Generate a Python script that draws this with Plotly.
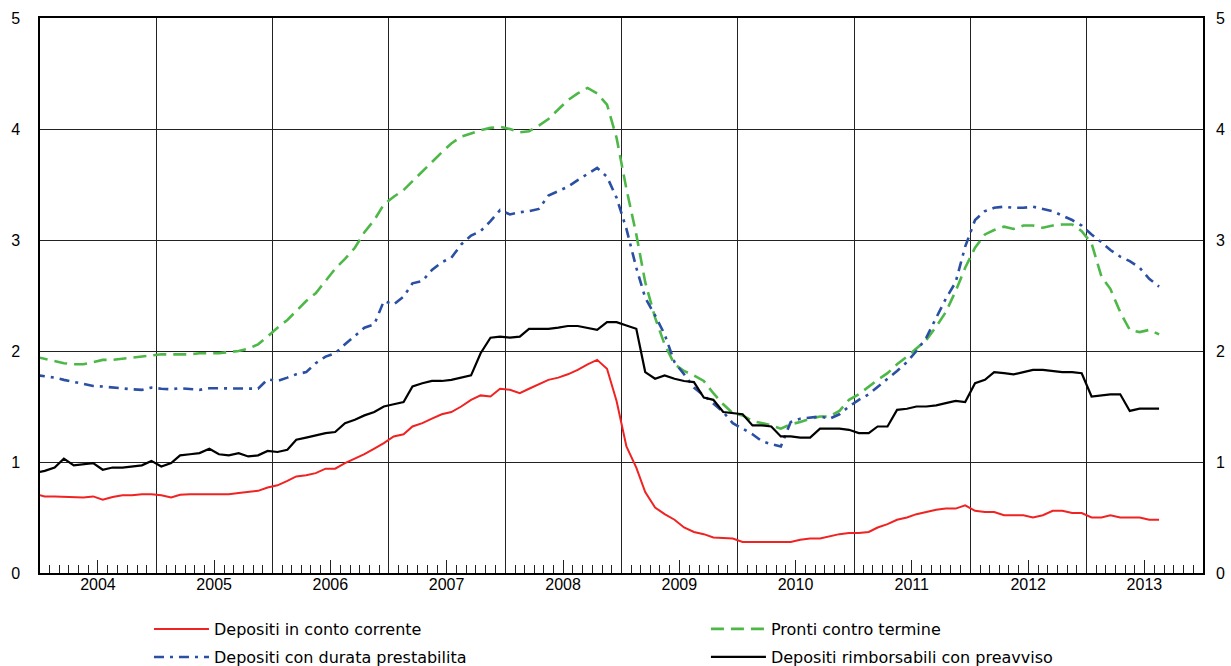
import pandas as pd
import plotly.graph_objects as go

# ---- data (monthly, Dec 2003 - Aug 2013) ----
start_month = "2003-12-01"
n_months = 117

conto_corrente = [
    0.71,
    0.69, 0.69, 0.685, 0.68, 0.68, 0.69, 0.66, 0.685, 0.70, 0.70, 0.71, 0.71,
    0.70, 0.68, 0.705, 0.71, 0.71, 0.705, 0.705, 0.71, 0.72, 0.73, 0.74, 0.77,
    0.79, 0.83, 0.87, 0.88, 0.90, 0.94, 0.94, 0.99, 1.03, 1.07, 1.12, 1.17,
    1.23, 1.25, 1.32, 1.35, 1.39, 1.43, 1.45, 1.50, 1.56, 1.60, 1.59, 1.66,
    1.65, 1.62, 1.66, 1.70, 1.74, 1.76, 1.79, 1.83, 1.88, 1.92, 1.84, 1.55,
    1.14, 0.95, 0.73, 0.59, 0.53, 0.48, 0.41, 0.37, 0.35, 0.32, 0.315, 0.31,
    0.28, 0.28, 0.28, 0.275, 0.275, 0.28, 0.30, 0.31, 0.31, 0.33, 0.35, 0.36,
    0.36, 0.37, 0.41, 0.44, 0.48, 0.50, 0.53, 0.55, 0.57, 0.58, 0.58, 0.61,
    0.56, 0.55, 0.55, 0.52, 0.52, 0.52, 0.50, 0.52, 0.56, 0.56, 0.54, 0.54,
    0.50, 0.50, 0.52, 0.50, 0.50, 0.50, 0.48, 0.48,
]

pronti_contro_termine = [
    1.95,
    1.93, 1.91, 1.89, 1.88, 1.88, 1.90, 1.92, 1.92, 1.93, 1.94, 1.95, 1.96,
    1.97, 1.97, 1.97, 1.97, 1.98, 1.98, 1.98, 1.99, 2.00, 2.02, 2.06, 2.13,
    2.21, 2.28, 2.36, 2.45, 2.52, 2.63, 2.74, 2.83, 2.93, 3.07, 3.18, 3.32,
    3.39, 3.45, 3.53, 3.62, 3.71, 3.79, 3.87, 3.93, 3.96, 3.99, 4.01, 4.02,
    4.00, 3.97, 3.98, 4.03, 4.09, 4.18, 4.26, 4.32, 4.37, 4.32, 4.22, 3.92,
    3.46, 3.05, 2.62, 2.30, 2.06, 1.88, 1.82, 1.78, 1.73, 1.62, 1.52, 1.44,
    1.42, 1.37, 1.35, 1.33, 1.30, 1.34, 1.36, 1.39, 1.41, 1.41, 1.46, 1.56,
    1.61, 1.68, 1.74, 1.80, 1.88, 1.95, 2.02, 2.10, 2.22, 2.35, 2.54, 2.75,
    2.93, 3.05, 3.09, 3.12, 3.10, 3.13, 3.13, 3.11, 3.13, 3.14, 3.14, 3.08,
    2.97, 2.67, 2.56, 2.35, 2.19, 2.17, 2.19, 2.15,
]

durata_prestabilita = [
    1.785,
    1.775, 1.76, 1.74, 1.72, 1.70, 1.685, 1.68, 1.67, 1.665, 1.655, 1.65, 1.67,
    1.66, 1.655, 1.665, 1.66, 1.65, 1.665, 1.665, 1.66, 1.66, 1.66, 1.66, 1.745,
    1.73, 1.76, 1.79, 1.81, 1.89, 1.95, 1.98, 2.06, 2.14, 2.21, 2.24, 2.45,
    2.42, 2.49, 2.61, 2.63, 2.73, 2.80, 2.84, 2.96, 3.04, 3.08, 3.17, 3.27,
    3.23, 3.25, 3.26, 3.28, 3.40, 3.44, 3.48, 3.54, 3.60, 3.65, 3.57, 3.38,
    3.10, 2.75, 2.48, 2.32, 2.15, 1.90, 1.79, 1.67, 1.60, 1.53, 1.45, 1.35,
    1.30, 1.25, 1.19, 1.16, 1.14, 1.36, 1.39, 1.40, 1.41, 1.39, 1.43, 1.50,
    1.56, 1.61, 1.68, 1.75, 1.82, 1.90, 2.00, 2.12, 2.30, 2.47, 2.62, 2.94,
    3.18, 3.26, 3.29, 3.30, 3.29, 3.29, 3.30, 3.28, 3.26, 3.22, 3.18, 3.13,
    3.05, 2.98, 2.91, 2.85, 2.81, 2.75, 2.65, 2.58,
]

rimborsabili_preavviso = [
    0.90,
    0.92, 0.95, 1.03, 0.97, 0.98, 0.99, 0.93, 0.95, 0.95, 0.96, 0.97, 1.01,
    0.96, 0.99, 1.06, 1.07, 1.08, 1.12, 1.07, 1.06, 1.08, 1.05, 1.06, 1.10,
    1.09, 1.11, 1.20, 1.22, 1.24, 1.26, 1.27, 1.35, 1.38, 1.42, 1.45, 1.50,
    1.52, 1.54, 1.68, 1.71, 1.73, 1.73, 1.74, 1.76, 1.78, 1.98, 2.12, 2.13,
    2.12, 2.13, 2.20, 2.20, 2.20, 2.21, 2.225, 2.225, 2.21, 2.19, 2.26, 2.26,
    2.23, 2.20, 1.81, 1.75, 1.78, 1.75, 1.73, 1.72, 1.58, 1.56, 1.45, 1.44,
    1.43, 1.33, 1.33, 1.32, 1.23, 1.23, 1.22, 1.22, 1.30, 1.30, 1.30, 1.29,
    1.26, 1.26, 1.32, 1.32, 1.47, 1.48, 1.50, 1.50, 1.51, 1.53, 1.55, 1.54,
    1.71, 1.74, 1.81, 1.80, 1.79, 1.81, 1.83, 1.83, 1.82, 1.81, 1.81, 1.80,
    1.59, 1.60, 1.61, 1.61, 1.46, 1.48, 1.48, 1.48,
]

years = list(range(2004, 2014))
year_labels = [str(y) for y in years]
y_ticks = [0, 1, 2, 3, 4, 5]

# mid-month dates
dates = pd.date_range(start_month, periods=n_months, freq="MS") + pd.Timedelta(days=15)

FONT = "Liberation Sans, Arial, sans-serif"
LEG_FONT = dict(family="DejaVu Sans, sans-serif", size=16, color="#000")

fig = go.Figure()
fig.add_trace(go.Scatter(x=dates, y=conto_corrente, mode="lines",
                         name="Depositi in conto corrente",
                         line=dict(color="#F02222", width=2), legend="legend"))
fig.add_trace(go.Scatter(x=dates, y=pronti_contro_termine, mode="lines",
                         name="Pronti contro termine",
                         line=dict(color="#4DB848", width=2.6, dash="13px,7px"), legend="legend2"))
fig.add_trace(go.Scatter(x=dates, y=durata_prestabilita, mode="lines",
                         name="Depositi con durata prestabilita", xaxis="x2", yaxis="y2",
                         line=dict(color="#2B4FA2", width=2.6, dash="10px,6px,3px,6px"), legend="legend3"))
fig.add_trace(go.Scatter(x=dates, y=rimborsabili_preavviso, mode="lines",
                         name="Depositi rimborsabili con preavviso", xaxis="x2", yaxis="y2",
                         line=dict(color="#000000", width=2.2), legend="legend4"))

x_range = [f"{years[0]}-01-01", f"{years[-1] + 1}-01-01"]
grid_color = "#222222"


def leg(x, y):
    return dict(orientation="h", x=x, xanchor="left", y=y, yanchor="middle",
                itemwidth=55, font=LEG_FONT, bgcolor="rgba(0,0,0,0)")


fig.update_layout(
    width=1231, height=666,
    showlegend=True,
    hovermode=False,
    margin=dict(l=40, r=28, t=18, b=93, autoexpand=False),
    paper_bgcolor="white", plot_bgcolor="white",
    font=dict(family=FONT, size=15, color="#000"),
    xaxis=dict(
        type="date", range=x_range,
        tickvals=[f"{y}-01-01" for y in years] + [f"{years[-1] + 1}-01-01"],
        showticklabels=False, ticks="inside", ticklen=8, tickcolor=grid_color,
        showgrid=True, gridcolor=grid_color, gridwidth=1,
        minor=dict(dtick="M1", tick0="2004-01-01", ticks="inside", ticklen=8,
                   tickcolor=grid_color, showgrid=False),
        showline=True, linecolor="#000", linewidth=1.5, mirror=True,
        zeroline=False,
    ),
    xaxis2=dict(
        type="date", overlaying="x", matches="x", anchor="y", side="bottom",
        tickvals=[f"{y}-07-01" for y in years], ticktext=year_labels,
        ticks="inside", ticklen=13, tickcolor=grid_color,
        showgrid=False, showline=False, zeroline=False,
        tickfont=dict(family=FONT, size=16),
    ),
    yaxis=dict(
        range=[0, 5], tickvals=y_ticks, showgrid=True, gridcolor=grid_color, gridwidth=1,
        ticks="", showline=True, linecolor="#000", linewidth=1.5, mirror=True,
        zeroline=False, ticklabelstandoff=15, tickfont=dict(family=FONT, size=16),
    ),
    yaxis2=dict(
        range=[0, 5], tickvals=y_ticks, overlaying="y", side="right", anchor="x",
        showgrid=False, ticks="", zeroline=False, showline=False,
        ticklabelstandoff=12, tickfont=dict(family=FONT, size=16),
    ),
    legend=leg(0.0937, -0.1009),
    legend2=leg(0.5726, -0.1009),
    legend3=leg(0.0937, -0.1514),
    legend4=leg(0.5726, -0.1514),
)

fig.write_html("out.html", config={"displayModeBar": False},
               post_script="document.body.style.margin='0';")
